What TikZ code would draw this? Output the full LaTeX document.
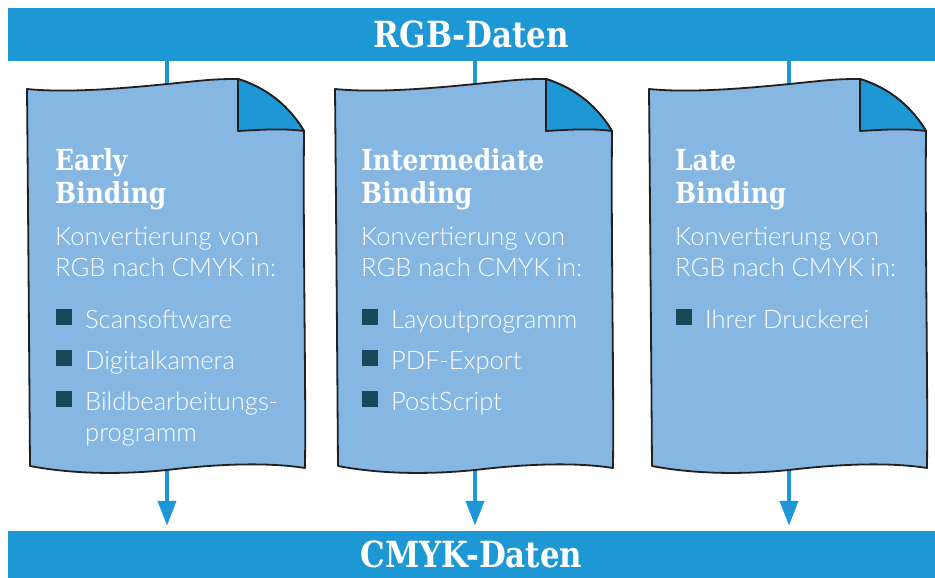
\documentclass[tikz,border=0pt]{standalone}
\usepackage{fontspec}
\newfontfamily\slabfont{DejaVu Serif}[FakeStretch=0.86]
\newfontfamily\bodyfont{Lato Light}
\usetikzlibrary{arrows.meta,positioning,calc}
\definecolor{RbBlue}{RGB}{29,152,213}
\definecolor{RbPage}{RGB}{133,183,226}
\definecolor{RbInk}{RGB}{35,31,32}
\definecolor{RbBullet}{RGB}{24,72,87}
\tikzset{
  rb/bar/.style={
    fill=RbBlue,
    minimum width=927pt,
    minimum height=53pt,
    inner sep=0pt,
    text=white,
    font=\slabfont\bfseries\fontsize{36}{40}\selectfont
  },
  rb/page/.style={draw=RbInk, line width=1.8pt, fill=RbPage, line join=round},
  rb/fold/.style={draw=RbInk, line width=1.8pt, fill=RbBlue, line join=round},
  rb/title/.style={
    anchor=base west,
    inner sep=0pt,
    align=left,
    text=white,
    font=\slabfont\bfseries\fontsize{29}{33}\selectfont
  },
  rb/text/.style={
    anchor=base west,
    inner sep=0pt,
    align=left,
    text=white,
    font=\bodyfont\fontsize{25.5}{31}\selectfont
  },
  rb/bullet/.style={fill=RbBullet, minimum size=16pt, inner sep=0pt},
  rb/stem/.style={draw=RbBlue, line width=4pt},
  rb/arrow/.style={-{Triangle[length=25pt,width=18pt]}, draw=RbBlue, line width=4pt, shorten >=5pt}
}

\begin{document}
\begin{tikzpicture}[x=1pt,y=-1pt]
  \useasboundingbox (0,0) rectangle (935,578);
  \node[rb/bar] (rgb) at (471.5,34.5) {RGB-Daten};
  \node[rb/bar,minimum height=47pt] (cmyk) at (471.5,554.5) {CMYK-Daten};

  \foreach \px/\pg in {27/early,335/inter,649/late}{
    \begin{scope}[shift={(\px,0)}]
      \coordinate (\pg-top) at (140,84);
      \coordinate (\pg-bot) at (140,460);
      \draw[rb/stem] (\pg-top |- rgb.south) -- (\pg-top);
      \draw[rb/arrow] (\pg-bot) -- (\pg-bot |- cmyk.north);
      \draw[rb/page] (0,89) .. controls (50,94) and (120,86) .. (170,81)
        .. controls (190,79) and (200,79) .. (211,79)
        .. controls (240,88) and (262,106) .. (277,131)
        .. controls (276,250) and (279,380) .. (278,468)
        .. controls (240,462) and (190,464) .. (140,470)
        .. controls (100,474) and (50,475) .. (3,466)
        .. controls (2,330) and (1,200) .. (0,89) -- cycle;
      \draw[rb/fold] (211,79) .. controls (240,88) and (262,106) .. (277,131)
        .. controls (255,128) and (230,130) .. (211,131) -- cycle;
    \end{scope}
  }

  \node[rb/title] (early-title) at (55,203) {Early\\Binding};
  \node[rb/text] (early-conv) at (55,276) {Konvertierung von\\RGB nach CMYK in:};
  \foreach \y/\entry [count=\i] in {328/Scansoftware,369/Digitalkamera}{
    \node[rb/bullet] (early-b\i) at (64,\y-11) {};
    \node[rb/text] (early-i\i) at (85,\y) {\entry};
  }
  \node[rb/bullet] (early-b3) at (64,399) {};
  \node[rb/text] (early-i3) at (85,441) {Bildbearbeitungs-\\programm};

  \node[rb/title] (inter-title) at (361,203) {Intermediate\\Binding};
  \node[rb/text] (inter-conv) at (361,276) {Konvertierung von\\RGB nach CMYK in:};
  \foreach \y/\entry [count=\i] in {328/Layoutprogramm,369/PDF-Export,410/PostScript}{
    \node[rb/bullet] (inter-b\i) at (370,\y-11) {};
    \node[rb/text] (inter-i\i) at (391,\y) {\entry};
  }

  \node[rb/title] (late-title) at (675,203) {Late\\Binding};
  \node[rb/text] (late-conv) at (675,276) {Konvertierung von\\RGB nach CMYK in:};
  \node[rb/bullet] (late-b1) at (684,317) {};
  \node[rb/text] (late-i1) at (705,328) {Ihrer Druckerei};
\end{tikzpicture}
\end{document}
